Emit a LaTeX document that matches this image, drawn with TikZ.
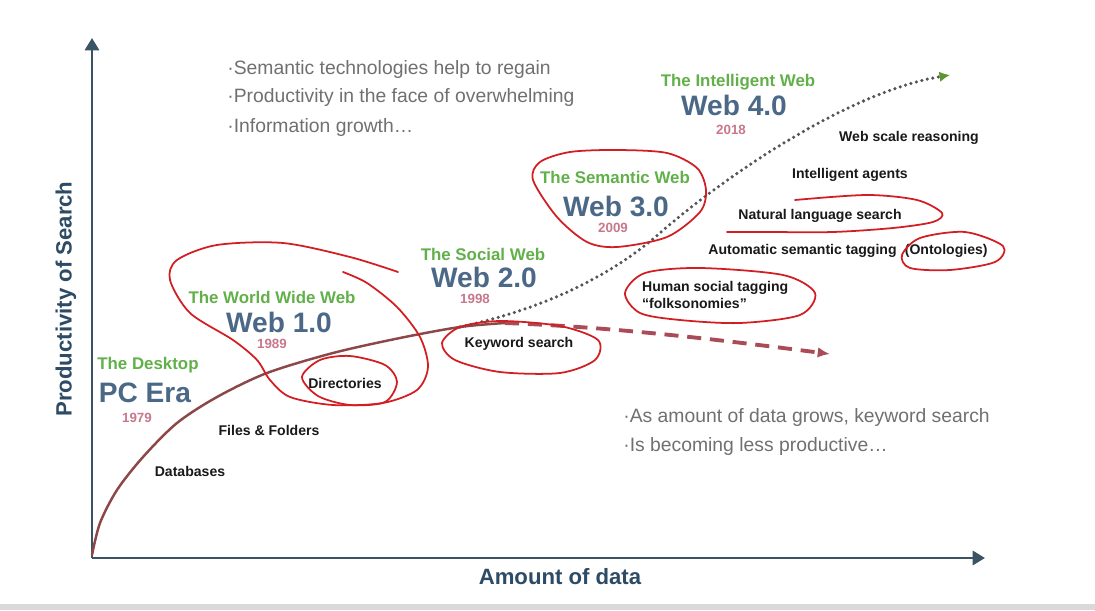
\documentclass[tikz,border=0pt]{standalone}
\usepackage{fontspec}
\setmainfont{Liberation Sans}
\usetikzlibrary{positioning,arrows.meta}
\definecolor{webgreen}{RGB}{98,176,74}
\definecolor{webblue}{RGB}{75,105,135}
\definecolor{yearpink}{RGB}{200,120,140}
\definecolor{notegray}{RGB}{112,112,112}
\definecolor{axiscol}{RGB}{58,84,100}
\definecolor{axlblcol}{RGB}{45,75,100}
\definecolor{oldcol}{RGB}{140,72,72}
\definecolor{dotcol}{RGB}{85,85,85}
\definecolor{arrgreen}{RGB}{90,150,50}
\definecolor{kwred}{RGB}{170,76,88}
\definecolor{penred}{RGB}{210,30,35}
\definecolor{bandgray}{RGB}{217,217,217}

\begin{document}
\begin{tikzpicture}[
  era/.style={font=\bfseries\fontsize{9.6}{11}\selectfont, text=webgreen, inner sep=1pt},
  webv/.style={font=\bfseries\fontsize{16}{18}\selectfont, text=webblue, inner sep=1pt},
  yr/.style={font=\bfseries\fontsize{7.6}{9}\selectfont, text=yearpink, inner sep=1pt},
  lbl/.style={font=\bfseries\fontsize{8}{9.6}\selectfont, text=black!90, inner sep=1pt},
  note/.style={font=\fontsize{11}{13}\selectfont, text=notegray, inner sep=0pt, anchor=base west},
  axlbl/.style={font=\bfseries\fontsize{12.6}{15}\selectfont, text=axlblcol, inner sep=1pt},
  axis/.style={draw=axiscol, line width=1.7pt, -{Triangle[length=7pt, width=8pt]}},
  oldcurve/.style={draw=oldcol, line width=1.4pt, line cap=round},
  semcurve/.style={draw=dotcol, line width=2pt, line cap=round, dash pattern=on 0pt off 3.2pt,
    -{Latex[length=6pt, width=6pt, color=arrgreen]}},
  kwcurve/.style={draw=kwred, line width=2.2pt, dash pattern=on 8pt off 5pt,
    -{Latex[length=7pt, width=6pt]}},
  redloop/.style={draw=penred, line width=1pt, line cap=round, line join=round}
]

\fill[white] (0,0) rectangle (21.90,12.20);
\fill[bandgray] (0,0) rectangle (21.90,0.12);
\useasboundingbox (0,0) rectangle (21.90,12.20);

% axes
\coordinate (o) at (1.84,1.04);
\coordinate (ytip) at (1.84,11.44);
\coordinate (xtip) at (19.70,1.04);
\draw[axis] (o) -- (ytip);
\draw[axis] (o) -- (xtip);
\node[axlbl, rotate=90] (ylab) at (1.32,6.22) {Productivity of Search};
\node[axlbl] (xlab) at (11.20,0.66) {Amount of data};

% curves
\coordinate (fork) at (9.20,5.66);
\coordinate (split) at (10.10,5.74);
\coordinate (bend) at (13.20,7.54);
\coordinate (kwend) at (16.60,5.12);
\coordinate (semend) at (19.00,10.70);
\draw[oldcurve] plot[smooth] coordinates {(1.84,1.10) (2.00,1.74) (2.34,2.40) (2.86,3.06) (3.54,3.74)
  (4.34,4.26) (5.34,4.74) (6.66,5.14) (8.00,5.44) (fork) (split)};
\draw[semcurve] (fork) .. controls (11.0,6.05) and (12.3,6.75) .. (bend)
  .. controls (14.37,8.57) and (16.9,10.35) .. (semend);
\draw[kwcurve] (split) .. controls (12.5,5.65) and (14.8,5.35) .. (kwend);

% notes
\node[note] (n1) at (4.54,10.70) {·Semantic technologies help to regain};
\node[note] (n2) at (4.54,10.14) {·Productivity in the face of overwhelming};
\node[note] (n3) at (4.54,9.56) {·Information growth…};
\node[note] (n4) at (12.46,3.76) {·As amount of data grows, keyword search};
\node[note] (n5) at (12.46,3.18) {·Is becoming less productive…};

% eras
\node[era] (e1) at (2.96,4.90) {The Desktop};
\node[webv] (w1) at (2.90,4.34) {PC Era};
\node[yr] (y1) at (2.74,3.84) {1979};
\node[era] (e2) at (5.44,6.26) {The World Wide Web};
\node[webv] (w2) at (5.58,5.76) {Web 1.0};
\node[yr] (y2) at (5.44,5.32) {1989};
\node[era] (e3) at (9.66,7.12) {The Social Web};
\node[webv] (w3) at (9.68,6.66) {Web 2.0};
\node[yr] (y3) at (9.50,6.22) {1998};
\node[era] (e4) at (12.30,8.66) {The Semantic Web};
\node[webv] (w4) at (12.32,8.08) {Web 3.0};
\node[yr] (y4) at (12.26,7.64) {2009};
\node[era] (e5) at (14.76,10.56) {The Intelligent Web};
\node[webv] (w5) at (14.68,10.10) {Web 4.0};
\node[yr] (y5) at (14.62,9.60) {2018};

% search techniques
\node[lbl] (db) at (3.80,2.78) {Databases};
\node[lbl] (ff) at (5.38,3.60) {Files \& Folders};
\node[lbl] (dir) at (6.90,4.54) {Directories};
\node[lbl] (kw) at (10.38,5.32) {Keyword search};
\node[lbl, align=left, anchor=west] (hst) at (12.80,6.30) {Human social tagging\\“folksonomies”};
\node[lbl] (ast) at (16.05,7.18) {Automatic semantic tagging};
\node[lbl, right=0.08 of ast] (onto) {(Ontologies)};
\node[lbl] (nls) at (16.40,7.88) {Natural language search};
\node[lbl] (ia) at (17.00,8.70) {Intelligent agents};
\node[lbl] (wsr) at (18.18,9.44) {Web scale reasoning};

% pen marks
\draw[redloop] plot[smooth cycle] coordinates {(12.34,9.20) (13.34,9.14) (13.94,8.84) (14.12,8.40)
  (14.00,7.96) (13.34,7.46) (12.34,7.26) (11.74,7.36) (11.14,7.86) (10.66,8.60) (10.80,8.96) (11.40,9.16)};
\draw[redloop] plot[smooth cycle] coordinates {(8.84,5.34) (9.20,5.66) (10.00,5.78) (11.20,5.68)
  (11.96,5.40) (11.90,5.00) (11.20,4.74) (10.00,4.76) (9.10,5.00)};
\draw[redloop] plot[smooth cycle] coordinates {(6.04,4.66) (6.40,5.00) (7.00,5.08) (7.70,4.90)
  (7.94,4.56) (7.70,4.16) (7.00,4.10) (6.36,4.28)};
\draw[redloop] plot[smooth] coordinates {(7.96,6.76) (7.00,7.06) (5.66,7.34) (4.34,7.30) (3.54,7.00)
  (3.40,6.60) (3.80,5.94) (4.66,5.40) (5.14,5.00) (5.40,4.60) (5.80,4.26) (6.66,4.10) (7.66,4.14)
  (8.34,4.40) (8.56,4.86) (8.40,5.46) (7.94,6.06) (7.34,6.54) (6.86,6.76)};
\draw[redloop] plot[smooth] coordinates {(15.90,8.20) (17.34,8.30) (18.34,8.20) (18.84,7.94)
  (18.66,7.76) (17.86,7.64) (16.66,7.56) (15.34,7.56) (14.54,7.56)};
\draw[redloop] plot[smooth cycle] coordinates {(18.04,7.10) (18.40,7.44) (19.30,7.56) (20.06,7.28)
  (19.90,6.96) (19.00,6.80) (18.20,6.84)};
\draw[redloop] plot[smooth cycle] coordinates {(12.50,6.34) (12.90,6.74) (14.00,6.84) (15.66,6.70)
  (16.30,6.34) (16.00,5.90) (14.80,5.74) (13.60,5.80) (12.80,5.94)};

\end{tikzpicture}
\end{document}
